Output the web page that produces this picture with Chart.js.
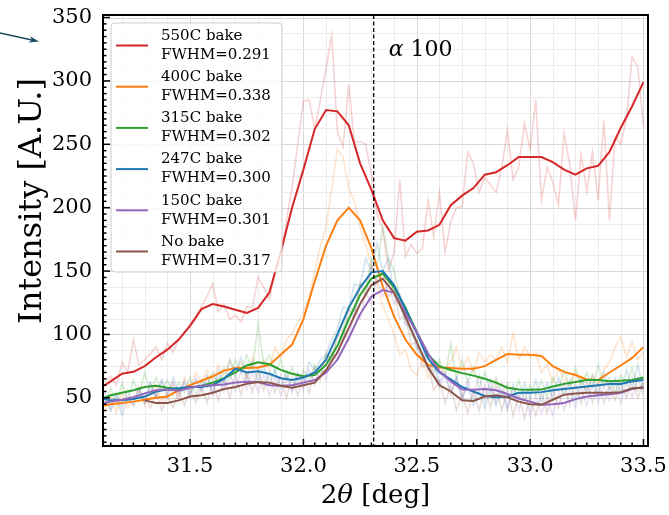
<!DOCTYPE html>
<html>
<head>
<meta charset="utf-8">
<script src="https://cdn.jsdelivr.net/npm/chart.js@4.4.1/dist/chart.umd.min.js"></script>
<style>
  html, body { margin: 0; padding: 0; background: #fff; overflow: hidden; }
  canvas { display: block; }
</style>
</head>
<body>
<canvas id="xrd" width="669" height="515"></canvas>
<script>
// 2theta positions of the raw scans (step 0.025 deg)
const RAW_X = [31.125, 31.15, 31.175, 31.2, 31.225, 31.25, 31.275, 31.3, 31.325, 31.35,
  31.375, 31.4, 31.425, 31.45, 31.475, 31.5, 31.525, 31.55, 31.575, 31.6,
  31.625, 31.65, 31.675, 31.7, 31.725, 31.75, 31.775, 31.8, 31.825, 31.85,
  31.875, 31.9, 31.925, 31.95, 31.975, 32.0, 32.025, 32.05, 32.075, 32.1,
  32.125, 32.15, 32.175, 32.2, 32.225, 32.25, 32.275, 32.3, 32.325, 32.35,
  32.375, 32.4, 32.425, 32.45, 32.475, 32.5, 32.525, 32.55, 32.575, 32.6,
  32.625, 32.65, 32.675, 32.7, 32.725, 32.75, 32.775, 32.8, 32.825, 32.85,
  32.875, 32.9, 32.925, 32.95, 32.975, 33.0, 33.025, 33.05, 33.075, 33.1,
  33.125, 33.15, 33.175, 33.2, 33.225, 33.25, 33.275, 33.3, 33.325, 33.35,
  33.375, 33.4, 33.425, 33.45, 33.475, 33.5];

// 2theta positions of the smoothed curves
const SMOOTH_X = [31.12, 31.15, 31.20, 31.25, 31.30, 31.35, 31.40, 31.45, 31.50, 31.55,
  31.60, 31.65, 31.70, 31.75, 31.80, 31.85, 31.90, 31.95, 32.00, 32.05,
  32.10, 32.15, 32.20, 32.25, 32.30, 32.35, 32.40, 32.45, 32.50, 32.55,
  32.60, 32.65, 32.70, 32.75, 32.80, 32.85, 32.90, 32.95, 33.00, 33.05,
  33.10, 33.15, 33.20, 33.25, 33.30, 33.35, 33.40, 33.45, 33.50];

// raw intensities
const RED_RAW = [62, 67, 60, 78, 70, 96, 76, 80, 85, 90,
  80, 93, 86, 96, 101, 106, 112, 122, 130, 140,
  118, 124, 112, 115, 110, 122, 121, 145, 137, 128,
  150, 157, 190, 216, 250, 284, 285, 262, 285, 310,
  336, 260, 248, 297, 252, 252, 250, 226, 195, 183,
  151, 165, 222, 161, 171, 164, 168, 206, 177, 212,
  165, 189, 200, 201, 244, 235, 212, 224, 218, 212,
  232, 261, 222, 232, 267, 246, 285, 206, 232, 220,
  202, 259, 234, 190, 242, 213, 244, 206, 269, 190,
  256, 250, 270, 319, 311, 264];
const ORANGE_RAW = [40, 52, 38, 55, 42, 50, 58, 44, 52, 60,
  47, 54, 62, 50, 66, 58, 70, 62, 72, 64,
  76, 68, 80, 70, 78, 66, 82, 70, 80, 72,
  90, 82, 96, 100, 110, 118, 130, 150, 170, 185,
  215, 246, 240, 215, 205, 185, 170, 155, 140, 122,
  112, 100, 84, 88, 72, 68, 80, 66, 78, 70,
  72, 78, 90, 72, 82, 70, 86, 78, 84, 80,
  90, 78, 101, 80, 90, 82, 86, 70, 76, 62,
  72, 66, 60, 70, 62, 56, 68, 60, 72, 78,
  90, 98, 82, 94, 80, 86];
const GREEN_RAW = [46, 58, 44, 62, 48, 64, 52, 70, 54, 66,
  56, 64, 52, 62, 54, 66, 52, 64, 58, 70,
  60, 74, 64, 80, 70, 84, 72, 108, 76, 84,
  70, 80, 64, 74, 62, 72, 64, 76, 70, 84,
  80, 100, 104, 122, 118, 140, 136, 160, 152, 185,
  160, 150, 130, 122, 100, 96, 80, 84, 70, 80,
  66, 93, 64, 80, 62, 74, 58, 70, 54, 66,
  52, 62, 50, 64, 48, 60, 52, 64, 50, 66,
  56, 72, 58, 74, 60, 70, 58, 76, 60, 66,
  54, 68, 60, 74, 56, 62];
const BLUE_RAW = [54, 40, 52, 36, 50, 44, 58, 46, 62, 50,
  64, 52, 66, 54, 62, 52, 64, 56, 68, 54,
  72, 60, 80, 68, 82, 64, 78, 62, 76, 60,
  72, 58, 70, 56, 70, 60, 78, 72, 80, 84,
  96, 104, 122, 120, 140, 138, 160, 150, 172, 150,
  160, 130, 132, 108, 104, 88, 90, 72, 78, 62,
  70, 54, 66, 50, 60, 44, 56, 42, 58, 44,
  56, 40, 60, 48, 62, 50, 64, 46, 62, 50,
  66, 52, 64, 48, 66, 54, 68, 52, 70, 56,
  66, 54, 72, 58, 76, 56];
const PURPLE_RAW = [50, 40, 54, 42, 56, 44, 58, 46, 62, 50,
  64, 50, 62, 48, 64, 52, 66, 54, 66, 52,
  68, 54, 70, 56, 72, 56, 70, 54, 68, 52,
  66, 52, 66, 54, 68, 56, 72, 60, 76, 64,
  86, 80, 104, 96, 120, 112, 134, 124, 146, 130,
  140, 124, 130, 108, 112, 90, 92, 72, 76, 58,
  68, 52, 66, 48, 64, 50, 68, 48, 64, 46,
  62, 42, 58, 40, 56, 36, 52, 38, 50, 36,
  54, 40, 56, 42, 58, 44, 62, 46, 60, 48,
  62, 46, 64, 50, 66, 52];
const BROWN_RAW = [null, null, null, null, null, null, null,
  52, 42, 54, 40, 52, 42, 56, 44, 58, 46,
  60, 46, 62, 48, 66, 50, 68, 52, 70, 54,
  72, 56, 70, 54, 68, 50, 66, 52, 68, 54,
  74, 64, 86, 78, 100, 96, 120, 114, 140, 130,
  155, 140, 150, 130, 134, 112, 116, 92, 94, 74,
  78, 56, 64, 46, 60, 40, 54, 38, 56, 40,
  60, 42, 62, 40, 58, 36, 52, 34, 50, 36,
  54, 38, 58, 42, 62, 44, 62, 46, 64, 46,
  62, 46, 60, 48, 62, 50, 66, 50, 62];

// smoothed intensities
const RED_SMOOTH = [59.5, 63, 69, 70.5, 75, 82, 88, 96, 107, 120,
  124, 122, 119.5, 117, 121, 133, 165, 200, 230, 262,
  277, 276, 265, 235, 214, 190, 176, 174, 181, 182,
  186.5, 202, 209.5, 215.5, 226, 228, 233.5, 240, 240, 240,
  236, 230, 226, 231, 233, 244, 263, 280, 299];
const ORANGE_SMOOTH = [44, 45, 46, 47, 48.5, 50, 51, 56, 60, 63.5,
  67, 71.5, 73.5, 73.5, 74, 76, 84, 92, 112, 142,
  170, 190, 200, 190, 168, 138, 114, 96, 84, 76,
  74, 73.5, 73, 73, 75, 80, 84.5, 84, 84, 83,
  75, 70.5, 68, 64.5, 64, 70, 75.5, 81.5, 90];
const GREEN_SMOOTH = [50, 52, 54, 56, 58.5, 59.5, 58, 57, 58, 59.5,
  62, 65.5, 70, 75.5, 78, 76.5, 72, 69, 67, 68,
  76, 91, 112, 131, 144, 148, 137, 121, 102, 84,
  75, 72, 69.5, 67.5, 65, 62, 58, 56.5, 56.3, 56.5,
  59, 61, 62.5, 64, 64, 63, 63.5, 64, 66];
const BLUE_SMOOTH = [49, 48, 48, 49, 51, 55, 56.5, 57.5, 58.5, 58.5,
  60, 65, 73, 70, 71, 69, 65.5, 64, 66, 70,
  80, 100, 121, 137, 149, 150, 139, 120, 101, 81,
  70, 64.5, 58.5, 55, 51.5, 50.5, 51, 54, 54, 54.5,
  56, 57, 58, 59, 60, 61, 61, 63, 64];
const PURPLE_SMOOTH = [46, 47, 48.5, 50.5, 53.5, 56, 56.5, 55.5, 58, 59.5,
  60, 60.5, 62, 62.6, 62.5, 60, 59.5, 60, 62, 64,
  70, 80, 97, 116, 130, 135, 133, 117, 102, 85,
  71, 63, 56.5, 56.3, 57, 56, 53, 49.5, 47, 44.5,
  45, 46, 49, 51, 52, 52.8, 54, 57, 58.5];
const BROWN_SMOOTH = [null, null, null, null, 48, 46, 46, 48, 51, 52,
  54, 57, 58.5, 61, 62.5, 62, 59.5, 58, 60, 62,
  72, 86, 105, 124, 139, 144, 133, 114, 94, 74,
  60, 55, 48, 47.5, 51, 52, 50.5, 47, 45, 44.5,
  48.5, 52.5, 53.5, 54, 54, 54, 54.5, 57.5, 58];

const SERIES = ['550C bake', '400C bake', '315C bake', '247C bake', '150C bake', 'No bake'];
const FWHM = ['0.291', '0.338', '0.302', '0.300', '0.301', '0.317'];
const COLORS = ['#d62728', '#ff7f0e', '#2ca02c', '#1f77b4', '#9467bd', '#8c564b'];
const RAW = [RED_RAW, ORANGE_RAW, GREEN_RAW, BLUE_RAW, PURPLE_RAW, BROWN_RAW];
const SMOOTH = [RED_SMOOTH, ORANGE_SMOOTH, GREEN_SMOOTH, BLUE_SMOOTH, PURPLE_SMOOTH, BROWN_SMOOTH];

const X_TICKS = [31.5, 32.0, 32.5, 33.0, 33.5];
const Y_TICKS = [50, 100, 150, 200, 250, 300, 350];
const X_MIN = 31.116, X_MAX = 33.52;
const Y_MIN = 12, Y_MAX = 352;
const PEAK_POS = 32.31;
const PEAK_NAME = '100';

const SERIF = "'DejaVu Serif', serif";

function hexA(hex, a) {
  const n = parseInt(hex.slice(1), 16);
  return `rgba(${(n >> 16) & 255}, ${(n >> 8) & 255}, ${n & 255}, ${a})`;
}
const pts = (xs, ys) => xs.map((x, i) => ({ x, y: ys[i] }));

const datasets = [];
RAW.forEach((ys, i) => {
  datasets.push({
    label: SERIES[i] + ' (raw)',
    data: pts(RAW_X, ys),
    borderColor: hexA(COLORS[i], 0.2),
    borderWidth: 1.6,
    pointRadius: 0,
    order: 20 - i,
  });
});
SMOOTH.forEach((ys, i) => {
  datasets.push({
    label: SERIES[i],
    data: pts(SMOOTH_X, ys),
    borderColor: COLORS[i],
    borderWidth: 2,
    pointRadius: 0,
    order: 6 - i,
  });
});

// grid, ticks, labels, frame and legend drawn matplotlib-style
const decor = {
  id: 'decor',
  beforeDatasetsDraw(chart) {
    const { ctx, chartArea: a, scales: { x, y } } = chart;
    ctx.save();
    ctx.beginPath(); ctx.rect(a.left, a.top, a.right - a.left, a.bottom - a.top); ctx.clip();
    ctx.lineWidth = 1;
    for (let k = 0; k <= 23; k++) {
      const v = 31.2 + k * 0.1;
      const px = Math.round(x.getPixelForValue(v)) + 0.5;
      const major = X_TICKS.some(t => Math.abs(t - v) < 1e-6);
      ctx.strokeStyle = major ? '#d9d9d9' : '#ececec';
      ctx.beginPath(); ctx.moveTo(px, a.top); ctx.lineTo(px, a.bottom); ctx.stroke();
    }
    for (let k = 1; k <= 28; k++) {
      const v = 12.5 * k;
      const py = Math.round(y.getPixelForValue(v)) + 0.5;
      const major = Y_TICKS.includes(v);
      ctx.strokeStyle = major ? '#d9d9d9' : '#ececec';
      ctx.beginPath(); ctx.moveTo(a.left, py); ctx.lineTo(a.right, py); ctx.stroke();
    }
    ctx.restore();
  },
  afterDatasetsDraw(chart) {
    const { ctx, chartArea: a, scales: { x, y } } = chart;
    ctx.save();

    // peak marker
    const xp = x.getPixelForValue(PEAK_POS);
    ctx.strokeStyle = '#000';
    ctx.lineWidth = 1.3;
    ctx.setLineDash([4, 2.5]);
    ctx.beginPath(); ctx.moveTo(xp, a.top); ctx.lineTo(xp, a.bottom); ctx.stroke();
    ctx.setLineDash([]);

    // inward ticks
    ctx.lineWidth = 1.5;
    for (let k = 0; k <= 47; k++) {
      const v = 31.15 + k * 0.05;
      const px = x.getPixelForValue(v);
      const major = X_TICKS.some(t => Math.abs(t - v) < 1e-6);
      const len = major ? 7 : 3.5;
      ctx.beginPath(); ctx.moveTo(px, a.bottom); ctx.lineTo(px, a.bottom - len); ctx.stroke();
    }
    for (let k = 3; k <= 70; k++) {
      const v = 5 * k;
      const py = y.getPixelForValue(v);
      const len = Y_TICKS.includes(v) ? 7 : 3.5;
      ctx.beginPath(); ctx.moveTo(a.left, py); ctx.lineTo(a.left + len, py); ctx.stroke();
    }

    // frame
    ctx.lineWidth = 2;
    ctx.strokeRect(a.left, a.top, a.right - a.left, a.bottom - a.top);

    // tick labels
    ctx.fillStyle = '#000';
    ctx.font = `21px ${SERIF}`;
    ctx.textBaseline = 'middle';
    ctx.textAlign = 'right';
    Y_TICKS.forEach(v => ctx.fillText(String(v), a.left - 11, y.getPixelForValue(v)));
    ctx.textAlign = 'center';
    X_TICKS.forEach(v => ctx.fillText(v.toFixed(1), x.getPixelForValue(v), a.bottom + 21));

    // legend
    const lx = a.left + 8, ly = a.top + 8, lw = 171, lh = 249;
    ctx.fillStyle = 'rgba(255,255,255,0.8)';
    ctx.strokeStyle = '#cccccc';
    ctx.lineWidth = 1;
    ctx.beginPath(); ctx.roundRect(lx, ly, lw, lh, 4); ctx.fill(); ctx.stroke();
    ctx.font = `15px ${SERIF}`;
    ctx.textBaseline = 'middle';
    ctx.textAlign = 'left';
    SERIES.forEach((name, i) => {
      const cy = ly + 22.5 + i * 41.2;
      ctx.strokeStyle = COLORS[i];
      ctx.lineWidth = 2;
      ctx.beginPath(); ctx.moveTo(lx + 5, cy); ctx.lineTo(lx + 37, cy); ctx.stroke();
      ctx.fillStyle = '#000';
      ctx.fillText(name, lx + 50, cy - 9.5);
      ctx.fillText('FWHM=' + FWHM[i], lx + 50, cy + 9.5);
    });

    // peak annotation
    ctx.fillStyle = '#000';
    ctx.textBaseline = 'alphabetic';
    ctx.font = `italic 22px ${SERIF}`;
    const ax = xp + 15, ay = a.top + 41;
    ctx.fillText('α', ax, ay);
    const aw = ctx.measureText('α ').width;
    ctx.font = `22px ${SERIF}`;
    ctx.fillText(PEAK_NAME, ax + aw, ay);
    ctx.restore();
  },
  afterDraw(chart) {
    const { ctx, chartArea: a } = chart;
    ctx.save();
    ctx.fillStyle = '#000';
    ctx.textBaseline = 'alphabetic';

    // x title: 2θ [deg]
    const parts = [['2', ''], ['θ', 'italic '], [' [deg]', '']];
    let total = 0;
    parts.forEach(p => { ctx.font = `${p[1]}26px ${SERIF}`; total += ctx.measureText(p[0]).width; });
    let tx = (a.left + a.right) / 2 - total / 2;
    parts.forEach(p => {
      ctx.font = `${p[1]}26px ${SERIF}`;
      ctx.fillText(p[0], tx, 503);
      tx += ctx.measureText(p[0]).width;
    });

    // y title
    ctx.translate(41, a.top + 186);
    ctx.rotate(-Math.PI / 2);
    ctx.textAlign = 'center';
    ctx.font = `32px ${SERIF}`;
    ctx.fillText('Intensity [A.U.]', 0, 0);
    ctx.setTransform(1, 0, 0, 1, 0, 0);

    // stray arrow at top-left
    ctx.strokeStyle = '#1c4b5e';
    ctx.fillStyle = '#1c4b5e';
    ctx.lineWidth = 1.5;
    ctx.beginPath(); ctx.moveTo(0, 33); ctx.lineTo(34, 40.5); ctx.stroke();
    ctx.beginPath();
    ctx.moveTo(39, 41.6); ctx.lineTo(30, 36.2); ctx.lineTo(32, 40); ctx.lineTo(28.6, 42.6);
    ctx.closePath(); ctx.fill();
    ctx.restore();
  }
};

new Chart(document.getElementById('xrd'), {
  type: 'line',
  data: { datasets },
  options: {
    responsive: false,
    animation: false,
    devicePixelRatio: 1,
    layout: { padding: { top: 15, right: 21, left: 0, bottom: 0 } },
    plugins: { legend: { display: false }, tooltip: { enabled: false } },
    elements: { line: { tension: 0 }, point: { radius: 0 } },
    scales: {
      x: {
        type: 'linear',
        min: X_MIN, max: X_MAX,
        grid: { display: false, drawTicks: false },
        border: { display: false },
        afterBuildTicks: s => { s.ticks = X_TICKS.map(v => ({ value: v })); },
        afterFit: s => { s.height = 69; },
        ticks: { display: false }
      },
      y: {
        type: 'linear',
        min: Y_MIN, max: Y_MAX,
        grid: { display: false, drawTicks: false },
        border: { display: false },
        afterBuildTicks: s => { s.ticks = Y_TICKS.map(v => ({ value: v })); },
        afterFit: s => { s.width = 103; },
        ticks: { display: false }
      }
    }
  },
  plugins: [decor]
});
</script>
</body>
</html>
